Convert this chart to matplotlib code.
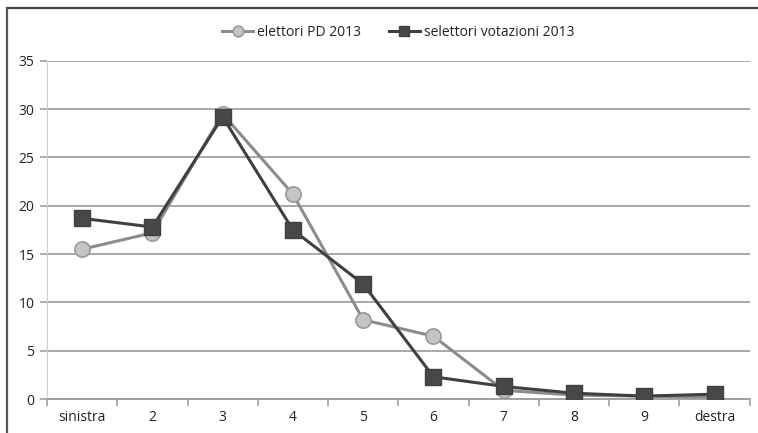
import matplotlib
matplotlib.use("Agg")
import matplotlib.pyplot as plt
from matplotlib.lines import Line2D

plt.rcParams['font.family'] = ['Open Sans', 'DejaVu Sans']

# data
categories = ['sinistra', '2', '3', '4', '5', '6', '7', '8', '9', 'destra']
elettori_pd = [15.5, 17.2, 29.5, 21.2, 8.2, 6.5, 0.9, 0.4, 0.3, 0.2]
selettori = [18.7, 17.8, 29.2, 17.5, 11.9, 2.3, 1.3, 0.6, 0.3, 0.5]

fig = plt.figure(figsize=(7.58, 4.33), dpi=100)
ax = fig.add_axes([0.062, 0.0785, 0.927, 0.781])

x = list(range(len(categories)))
ax.plot(x, elettori_pd, color='#8c8c8c', lw=2.2, marker='o', ms=11,
        mfc='#c4c4c4', mec='#9a9a9a', mew=1.2, label='elettori PD 2013', zorder=3)
ax.plot(x, selettori, color='#404040', lw=2.2, marker='s', ms=11,
        mfc='#484848', mec='#404040', mew=1, label='selettori votazioni 2013', zorder=4)

ax.set_xlim(-0.5, 9.5)
ax.set_ylim(0, 35)
ax.set_yticks(range(0, 36, 5))
ax.set_xticks(x)
ax.set_xticklabels(categories)
ax.set_xticks([i + 0.5 for i in range(-1, 10)], minor=True)
ax.tick_params(axis='x', which='major', length=0, pad=8, labelsize=10, labelcolor='#222222')
ax.tick_params(axis='x', which='minor', length=5, color='#a0a0a0', width=1.2)
ax.tick_params(axis='y', length=5, color='#a0a0a0', width=1.2, labelsize=10, pad=4,
               labelcolor='#222222')

ax.grid(axis='y', color='#a8a8a8', lw=1.4)
ax.set_axisbelow(True)
for s in ['top', 'right']:
    ax.spines[s].set_visible(False)
ax.spines['left'].set_color('#d0d0d0')
ax.spines['left'].set_linewidth(0.8)
ax.spines['bottom'].set_color('#a0a0a0')
ax.spines['bottom'].set_linewidth(1.4)

leg = ax.legend(loc='center', bbox_to_anchor=(0.5, 1.085), ncol=2, frameon=False,
                fontsize=10, handlelength=2.2, columnspacing=2.0, handletextpad=0.3,
                markerscale=0.7)
for t in leg.get_texts():
    t.set_color('#222222')

# outer frame: top and left edges only
fig.add_artist(Line2D([0.009, 1.0], [0.982, 0.982], transform=fig.transFigure,
                      color='#444444', lw=1.6))
fig.add_artist(Line2D([0.009, 0.009], [0.0, 0.982], transform=fig.transFigure,
                      color='#555555', lw=1.6))

fig.savefig('out.png', dpi=100)
